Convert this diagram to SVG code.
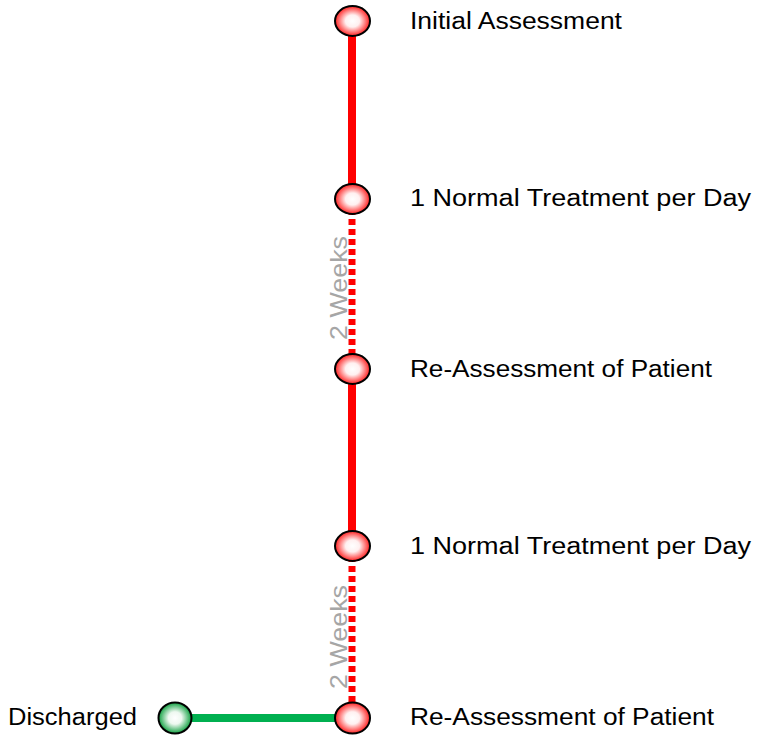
<svg xmlns="http://www.w3.org/2000/svg" width="757" height="736" viewBox="0 0 757 736">
<defs>
<radialGradient id="gr" cx="0.5" cy="0.5" r="0.5">
<stop offset="0" stop-color="#ffffff"/>
<stop offset="0.4" stop-color="#fff0f0"/>
<stop offset="1" stop-color="#ff2020"/>
</radialGradient>
<radialGradient id="gg" cx="0.5" cy="0.5" r="0.5">
<stop offset="0" stop-color="#ffffff"/>
<stop offset="0.4" stop-color="#eef8f0"/>
<stop offset="1" stop-color="#10a040"/>
</radialGradient>
<style>
.solid{stroke:#ff0000;stroke-width:8;fill:none}
.dot{stroke:#ff0000;stroke-width:7;stroke-dasharray:6 4;fill:none}
.green{stroke:#00b050;stroke-width:8;fill:none}
.node{stroke:#000;stroke-width:2}
.lbl{font-family:"Liberation Sans",Arial,sans-serif;font-size:23px;fill:#000}
.wk{font-family:"Liberation Sans",Arial,sans-serif;font-size:24px;fill:#a6a6a6}
</style>
</defs>
<g id="connectors">
<line class="solid" x1="352" y1="21" x2="352" y2="199"/>
<line class="dot" x1="352" y1="199" x2="352" y2="369"/>
<line class="solid" x1="352" y1="369" x2="352" y2="546"/>
<line class="dot" x1="352" y1="546" x2="352" y2="718"/>
<line class="green" x1="175" y1="718" x2="352" y2="718"/>
<text class="wk" transform="translate(347,288) rotate(-90)" text-anchor="middle" textLength="104" lengthAdjust="spacingAndGlyphs">2 Weeks</text>
<text class="wk" transform="translate(347,637) rotate(-90)" text-anchor="middle" textLength="104" lengthAdjust="spacingAndGlyphs">2 Weeks</text>
</g>
<g id="n1">
<ellipse class="node" cx="352.5" cy="21" rx="17.5" ry="15" fill="url(#gr)"/>
<text class="lbl" x="410" y="29" textLength="212" lengthAdjust="spacingAndGlyphs">Initial Assessment</text>
</g>
<g id="n2">
<ellipse class="node" cx="352.5" cy="199" rx="17.5" ry="15" fill="url(#gr)"/>
<text class="lbl" x="410" y="206" textLength="341" lengthAdjust="spacingAndGlyphs">1 Normal Treatment per Day</text>
</g>
<g id="n3">
<ellipse class="node" cx="352.5" cy="369" rx="17.5" ry="15" fill="url(#gr)"/>
<text class="lbl" x="410" y="377" textLength="302" lengthAdjust="spacingAndGlyphs">Re-Assessment of Patient</text>
</g>
<g id="n4">
<ellipse class="node" cx="352.5" cy="546" rx="17.5" ry="15" fill="url(#gr)"/>
<text class="lbl" x="410" y="554" textLength="341" lengthAdjust="spacingAndGlyphs">1 Normal Treatment per Day</text>
</g>
<g id="n5">
<ellipse class="node" cx="352.5" cy="718" rx="17.5" ry="15.5" fill="url(#gr)"/>
<text class="lbl" x="410" y="725" textLength="304" lengthAdjust="spacingAndGlyphs">Re-Assessment of Patient</text>
</g>
<g id="n6">
<ellipse class="node" cx="175" cy="718" rx="16.5" ry="15.5" fill="url(#gg)"/>
<text class="lbl" x="8" y="725" textLength="129" lengthAdjust="spacingAndGlyphs">Discharged</text>
</g>
</svg>
